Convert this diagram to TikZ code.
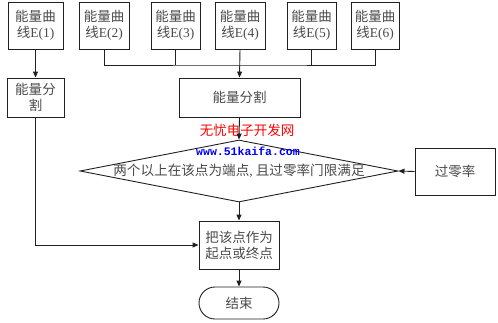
\documentclass[tikz,border=0pt]{standalone}
\usepackage{fontspec}
\setmainfont{Liberation Serif}
\newfontfamily\cjk{Noto Sans CJK SC}
\newfontfamily\wmmono{Liberation Mono}
\usetikzlibrary{arrows.meta,shapes.geometric,shapes.misc}
\definecolor{txt}{HTML}{4A4A4A}
\definecolor{ln}{HTML}{202020}
\begin{document}
\begin{tikzpicture}[x=1pt,y=-1pt,
  box/.style={draw=ln,line width=0.9pt,inner sep=0pt,align=center,text=txt,
    font=\fontsize{13.5}{16}\selectfont, minimum height=47pt},
  conn/.style={draw=ln,line width=0.9pt},
  arr/.style={conn,-{Triangle[length=6pt,width=5pt]}}]
\useasboundingbox (0,0) rectangle (498,322);
% top row
\node[box,minimum width=55pt] (e1) at (35.5,25.5) {{\cjk 能量曲}\\{\cjk 线}E(1)};
\node[box,minimum width=50pt] (e2) at (104,25.5) {{\cjk 能量曲}\\{\cjk 线}E(2)};
\node[box,minimum width=49pt] (e3) at (175.5,25.5) {{\cjk 能量曲}\\{\cjk 线}E(3)};
\node[box,minimum width=50pt] (e4) at (240,25.5) {{\cjk 能量曲}\\{\cjk 线}E(4)};
\node[box,minimum width=49pt] (e5) at (311.5,25.5) {{\cjk 能量曲}\\{\cjk 线}E(5)};
\node[box,minimum width=48pt] (e6) at (375,25.5) {{\cjk 能量曲}\\{\cjk 线}E(6)};
% segmentation
\node[box,minimum width=57pt,minimum height=39pt] (s1) at (35.5,97.5) {\cjk 能量分\\\cjk 割};
\node[box,minimum width=121pt,minimum height=39pt] (s2) at (239.5,97.5) {\cjk 能量分割};
% decision
\node[diamond,draw=ln,line width=0.9pt,minimum width=318pt,minimum height=62pt,inner sep=0pt,
  label={[text=txt,font=\cjk\fontsize{13.6}{16}\selectfont]center:两个以上在该点为端点{\rmfamily,} 且过零率门限满足}] (d) at (239,171) {};
\node[box,minimum width=80pt] (z) at (455,171.5) {\cjk 过零率};
\node[box,minimum width=80pt,minimum height=48pt] (p) at (239,245) {\cjk 把该点作为\\\cjk 起点或终点};
\node[box,rounded rectangle,minimum width=80pt,minimum height=32pt] (end) at (239,303) {\cjk 结束};
% watermark
\node[text=red,font=\cjk\fontsize{13.5}{16}\selectfont,inner sep=0pt] (wm1) at (247,130) {无忧电子开发网};
\node[text=blue,font=\wmmono\bfseries\fontsize{11.5}{14}\selectfont,inner sep=0pt] (wm2) at (248,151) {www.51kaifa.com};
% connectors
\coordinate (bus) at (240,65);
\draw[arr] (e1.south) -- (s1.north);
\draw[conn] (e2.south) |- (bus) -| (e6.south);
\draw[conn] (e3.south) -- (e3.south |- bus);
\draw[conn] (e5.south) -- (e5.south |- bus);
\draw[arr] (e4.south) -- (s2.north);
\draw[arr] (s2.south) -- (d.north);
\draw[arr] (z.west) -- (d.east);
\draw[arr] (d.south) -- (p.north);
\draw[arr] (s1.south) |- (p.west);
\draw[arr] (p.south) -- (end.north);
\end{tikzpicture}
\end{document}
